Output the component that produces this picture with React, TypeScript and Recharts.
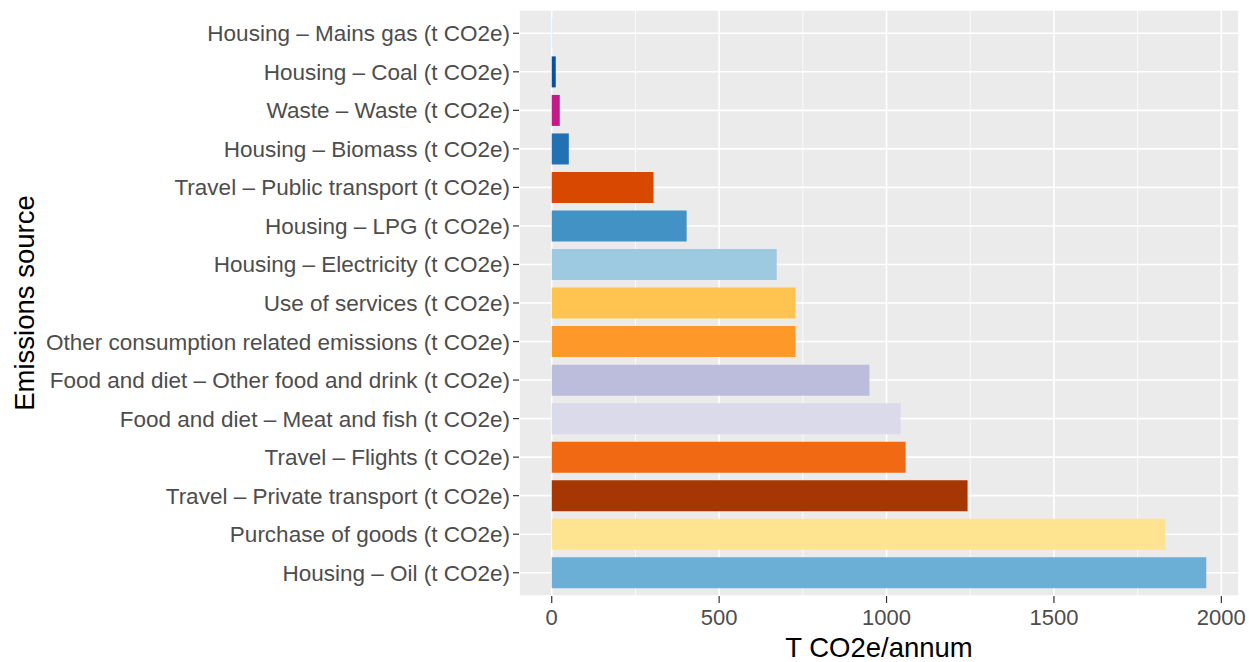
import { BarChart, Bar, XAxis, YAxis, CartesianGrid, Cell } from 'recharts';

const categories = [
  'Housing – Mains gas (t CO2e)',
  'Housing – Coal (t CO2e)',
  'Waste – Waste (t CO2e)',
  'Housing – Biomass (t CO2e)',
  'Travel – Public transport (t CO2e)',
  'Housing – LPG (t CO2e)',
  'Housing – Electricity (t CO2e)',
  'Use of services (t CO2e)',
  'Other consumption related emissions (t CO2e)',
  'Food and diet – Other food and drink (t CO2e)',
  'Food and diet – Meat and fish (t CO2e)',
  'Travel – Flights (t CO2e)',
  'Travel – Private transport (t CO2e)',
  'Purchase of goods (t CO2e)',
  'Housing – Oil (t CO2e)',
];

const emissions = [3, 12, 24, 51, 304, 403, 672, 728, 728, 949, 1042, 1057, 1242, 1833, 1955];

const barColors = [
  '#deebf7', '#08519c', '#c51b8a', '#2171b5', '#d94801',
  '#4292c6', '#9ecae1', '#fec44f', '#fe9929', '#bcbddc',
  '#dadaeb', '#f16913', '#a63603', '#fee391', '#6baed6',
];

const xTicks = [0, 500, 1000, 1500, 2000];
const xMinorTicks = [250, 750, 1250, 1750];

const data = categories.map((name, i) => ({ name, value: emissions[i] }));

const FONT = '"Liberation Sans", Arial, Helvetica, sans-serif';

// ggplot-style 5% expansion on the continuous axis
const maxVal = Math.max(...emissions);
const pad = maxVal * 0.05;
const domain: [number, number] = [-pad, maxVal + pad];

// minor gridline positions, from the axis scale when available
function minorX(props: any) {
  const s = props?.xAxis?.scale;
  if (typeof s === 'function') return xMinorTicks.map((t) => s(t));
  if (s && typeof s.map === 'function') return xMinorTicks.map((t) => s.map(t));
  const { left, width } = props.offset;
  return xMinorTicks.map((t) => left + ((t - domain[0]) / (domain[1] - domain[0])) * width);
}

export default function App() {
  return (
    <div style={{ position: 'absolute', left: 0, top: 0, width: 1260, height: 662, background: '#fff' }}>
      <BarChart
        width={1260}
        height={662}
        data={data}
        layout="vertical"
        margin={{ top: 10, right: 21, bottom: 0, left: 0 }}
        barCategoryGap="10%"
        style={{ fontFamily: FONT }}
      >
        <CartesianGrid fill="#EBEBEB" stroke="#FFFFFF" strokeWidth={1.6} />
        <CartesianGrid
          horizontal={false}
          fill="none"
          stroke="#FFFFFF"
          strokeWidth={0.8}
          verticalCoordinatesGenerator={minorX}
        />
        <XAxis
          type="number"
          domain={domain}
          allowDataOverflow
          ticks={xTicks}
          height={66}
          axisLine={false}
          tickLine={{ stroke: '#333333', strokeWidth: 1.2 }}
          tickSize={7}
          tickMargin={6}
          tick={{ fill: '#4D4D4D', fontSize: 22, fontFamily: FONT }}
          label={{
            value: 'T CO2e/annum',
            position: 'insideBottom',
            offset: 5,
            fill: '#000000',
            fontSize: 27.5,
            fontFamily: FONT,
          }}
        />
        <YAxis
          type="category"
          dataKey="name"
          width={519}
          axisLine={false}
          tickLine={{ stroke: '#333333', strokeWidth: 1.2 }}
          tickSize={6}
          tickMargin={3}
          interval={0}
          padding={{ top: 4, bottom: 4 }}
          tick={{ fill: '#4D4D4D', fontSize: 22.5, fontFamily: FONT }}
          label={{
            content: () => (
              <text
                x={24}
                y={303}
                transform="rotate(-90 24 303)"
                textAnchor="middle"
                dominantBaseline="central"
                fontSize={27.5}
                fontFamily={FONT}
                fill="#000000"
              >
                Emissions source
              </text>
            ),
          }}
        />
        <Bar dataKey="value" isAnimationActive={false}>
          {data.map((d, i) => (
            <Cell key={d.name} fill={barColors[i]} />
          ))}
        </Bar>
      </BarChart>
    </div>
  );
}
